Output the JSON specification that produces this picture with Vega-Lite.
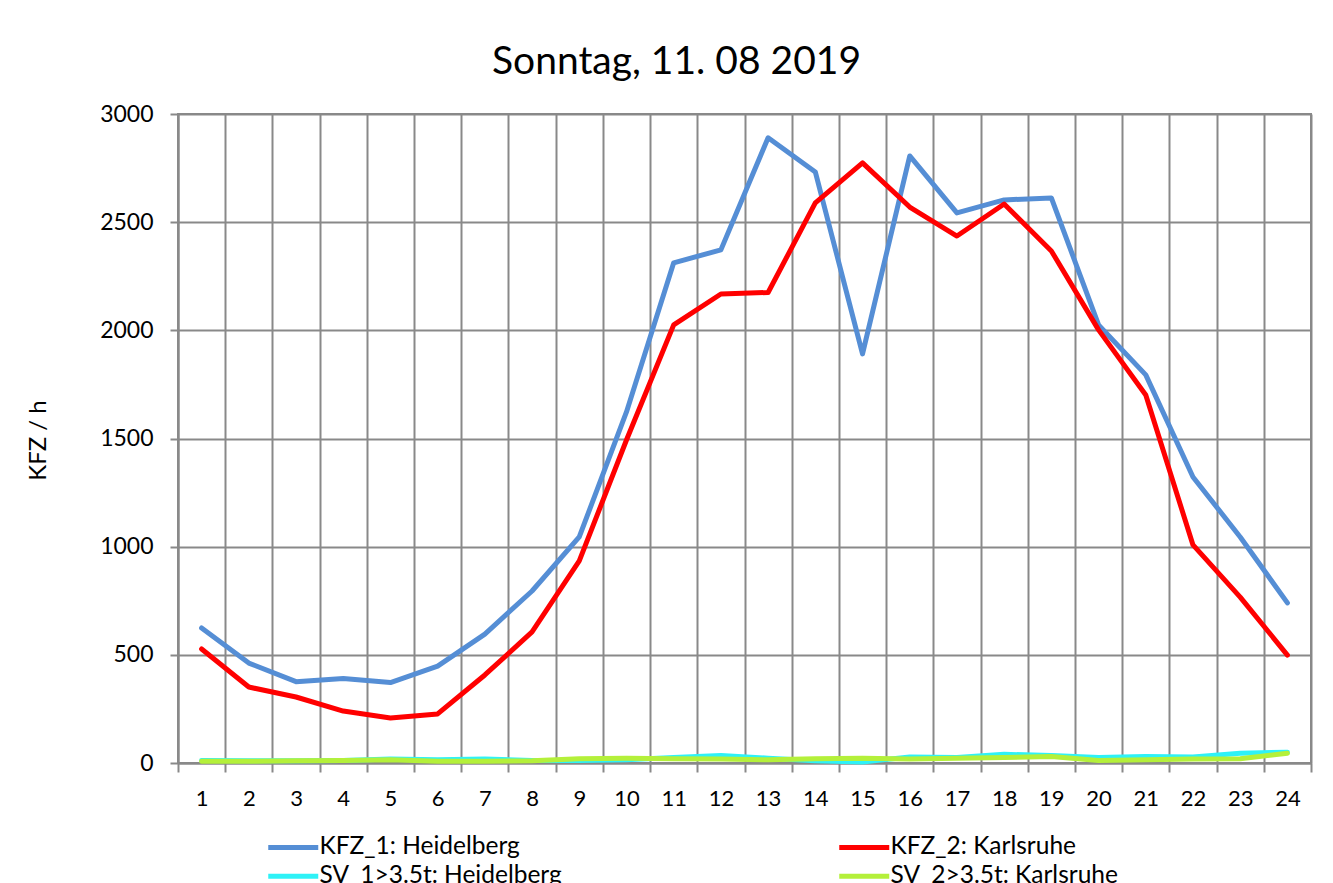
{
  "$schema": "https://vega.github.io/schema/vega-lite/v6.json",
  "width": 1133,
  "height": 649,
  "autosize": {"type": "none"},
  "padding": {"left": 178, "top": 114, "right": 22, "bottom": 120},
  "background": "white",
  "title": {
    "text": "Sonntag, 11. 08 2019",
    "font": "Lato",
    "fontSize": 39,
    "fontWeight": "normal",
    "color": "black",
    "anchor": "middle",
    "dx": -68,
    "dy": 53,
    "baseline": "alphabetic",
    "offset": 43
  },
  "config": {
    "view": {"stroke": "#898989", "strokeWidth": 2},
    "font": "Lato"
  },
  "datasets": {
    "traffic": [
      {"h": 1, "s": "KFZ_1: Heidelberg", "v": 624},
      {"h": 2, "s": "KFZ_1: Heidelberg", "v": 462},
      {"h": 3, "s": "KFZ_1: Heidelberg", "v": 376},
      {"h": 4, "s": "KFZ_1: Heidelberg", "v": 391},
      {"h": 5, "s": "KFZ_1: Heidelberg", "v": 372},
      {"h": 6, "s": "KFZ_1: Heidelberg", "v": 448},
      {"h": 7, "s": "KFZ_1: Heidelberg", "v": 596},
      {"h": 8, "s": "KFZ_1: Heidelberg", "v": 795},
      {"h": 9, "s": "KFZ_1: Heidelberg", "v": 1045},
      {"h": 10, "s": "KFZ_1: Heidelberg", "v": 1623},
      {"h": 11, "s": "KFZ_1: Heidelberg", "v": 2312},
      {"h": 12, "s": "KFZ_1: Heidelberg", "v": 2372},
      {"h": 13, "s": "KFZ_1: Heidelberg", "v": 2890},
      {"h": 14, "s": "KFZ_1: Heidelberg", "v": 2732},
      {"h": 15, "s": "KFZ_1: Heidelberg", "v": 1891},
      {"h": 16, "s": "KFZ_1: Heidelberg", "v": 2806},
      {"h": 17, "s": "KFZ_1: Heidelberg", "v": 2543},
      {"h": 18, "s": "KFZ_1: Heidelberg", "v": 2603},
      {"h": 19, "s": "KFZ_1: Heidelberg", "v": 2612},
      {"h": 20, "s": "KFZ_1: Heidelberg", "v": 2025},
      {"h": 21, "s": "KFZ_1: Heidelberg", "v": 1794},
      {"h": 22, "s": "KFZ_1: Heidelberg", "v": 1322},
      {"h": 23, "s": "KFZ_1: Heidelberg", "v": 1045},
      {"h": 24, "s": "KFZ_1: Heidelberg", "v": 740},
      {"h": 1, "s": "KFZ_2: Karlsruhe", "v": 527},
      {"h": 2, "s": "KFZ_2: Karlsruhe", "v": 351},
      {"h": 3, "s": "KFZ_2: Karlsruhe", "v": 305},
      {"h": 4, "s": "KFZ_2: Karlsruhe", "v": 240},
      {"h": 5, "s": "KFZ_2: Karlsruhe", "v": 208},
      {"h": 6, "s": "KFZ_2: Karlsruhe", "v": 227},
      {"h": 7, "s": "KFZ_2: Karlsruhe", "v": 407},
      {"h": 8, "s": "KFZ_2: Karlsruhe", "v": 606},
      {"h": 9, "s": "KFZ_2: Karlsruhe", "v": 934},
      {"h": 10, "s": "KFZ_2: Karlsruhe", "v": 1493},
      {"h": 11, "s": "KFZ_2: Karlsruhe", "v": 2025},
      {"h": 12, "s": "KFZ_2: Karlsruhe", "v": 2168},
      {"h": 13, "s": "KFZ_2: Karlsruhe", "v": 2175},
      {"h": 14, "s": "KFZ_2: Karlsruhe", "v": 2589},
      {"h": 15, "s": "KFZ_2: Karlsruhe", "v": 2774},
      {"h": 16, "s": "KFZ_2: Karlsruhe", "v": 2570},
      {"h": 17, "s": "KFZ_2: Karlsruhe", "v": 2436},
      {"h": 18, "s": "KFZ_2: Karlsruhe", "v": 2584},
      {"h": 19, "s": "KFZ_2: Karlsruhe", "v": 2367},
      {"h": 20, "s": "KFZ_2: Karlsruhe", "v": 2002},
      {"h": 21, "s": "KFZ_2: Karlsruhe", "v": 1701},
      {"h": 22, "s": "KFZ_2: Karlsruhe", "v": 1008},
      {"h": 23, "s": "KFZ_2: Karlsruhe", "v": 767},
      {"h": 24, "s": "KFZ_2: Karlsruhe", "v": 499},
      {"h": 1, "s": "SV_1>3.5t: Heidelberg", "v": 12},
      {"h": 2, "s": "SV_1>3.5t: Heidelberg", "v": 10},
      {"h": 3, "s": "SV_1>3.5t: Heidelberg", "v": 10},
      {"h": 4, "s": "SV_1>3.5t: Heidelberg", "v": 12},
      {"h": 5, "s": "SV_1>3.5t: Heidelberg", "v": 18},
      {"h": 6, "s": "SV_1>3.5t: Heidelberg", "v": 15},
      {"h": 7, "s": "SV_1>3.5t: Heidelberg", "v": 18},
      {"h": 8, "s": "SV_1>3.5t: Heidelberg", "v": 12},
      {"h": 9, "s": "SV_1>3.5t: Heidelberg", "v": 12},
      {"h": 10, "s": "SV_1>3.5t: Heidelberg", "v": 15},
      {"h": 11, "s": "SV_1>3.5t: Heidelberg", "v": 25},
      {"h": 12, "s": "SV_1>3.5t: Heidelberg", "v": 35},
      {"h": 13, "s": "SV_1>3.5t: Heidelberg", "v": 22},
      {"h": 14, "s": "SV_1>3.5t: Heidelberg", "v": 10},
      {"h": 15, "s": "SV_1>3.5t: Heidelberg", "v": 5},
      {"h": 16, "s": "SV_1>3.5t: Heidelberg", "v": 28},
      {"h": 17, "s": "SV_1>3.5t: Heidelberg", "v": 25},
      {"h": 18, "s": "SV_1>3.5t: Heidelberg", "v": 40},
      {"h": 19, "s": "SV_1>3.5t: Heidelberg", "v": 35},
      {"h": 20, "s": "SV_1>3.5t: Heidelberg", "v": 25},
      {"h": 21, "s": "SV_1>3.5t: Heidelberg", "v": 30},
      {"h": 22, "s": "SV_1>3.5t: Heidelberg", "v": 28},
      {"h": 23, "s": "SV_1>3.5t: Heidelberg", "v": 45},
      {"h": 24, "s": "SV_1>3.5t: Heidelberg", "v": 50},
      {"h": 1, "s": "SV_2>3.5t: Karlsruhe", "v": 8},
      {"h": 2, "s": "SV_2>3.5t: Karlsruhe", "v": 8},
      {"h": 3, "s": "SV_2>3.5t: Karlsruhe", "v": 10},
      {"h": 4, "s": "SV_2>3.5t: Karlsruhe", "v": 12},
      {"h": 5, "s": "SV_2>3.5t: Karlsruhe", "v": 15},
      {"h": 6, "s": "SV_2>3.5t: Karlsruhe", "v": 8},
      {"h": 7, "s": "SV_2>3.5t: Karlsruhe", "v": 8},
      {"h": 8, "s": "SV_2>3.5t: Karlsruhe", "v": 10},
      {"h": 9, "s": "SV_2>3.5t: Karlsruhe", "v": 20},
      {"h": 10, "s": "SV_2>3.5t: Karlsruhe", "v": 22},
      {"h": 11, "s": "SV_2>3.5t: Karlsruhe", "v": 20},
      {"h": 12, "s": "SV_2>3.5t: Karlsruhe", "v": 18},
      {"h": 13, "s": "SV_2>3.5t: Karlsruhe", "v": 15},
      {"h": 14, "s": "SV_2>3.5t: Karlsruhe", "v": 20},
      {"h": 15, "s": "SV_2>3.5t: Karlsruhe", "v": 22},
      {"h": 16, "s": "SV_2>3.5t: Karlsruhe", "v": 18},
      {"h": 17, "s": "SV_2>3.5t: Karlsruhe", "v": 22},
      {"h": 18, "s": "SV_2>3.5t: Karlsruhe", "v": 25},
      {"h": 19, "s": "SV_2>3.5t: Karlsruhe", "v": 30},
      {"h": 20, "s": "SV_2>3.5t: Karlsruhe", "v": 12},
      {"h": 21, "s": "SV_2>3.5t: Karlsruhe", "v": 15},
      {"h": 22, "s": "SV_2>3.5t: Karlsruhe", "v": 18},
      {"h": 23, "s": "SV_2>3.5t: Karlsruhe", "v": 20},
      {"h": 24, "s": "SV_2>3.5t: Karlsruhe", "v": 45}
    ]
  },
  "data": {"name": "traffic"},
  "mark": {"type": "line", "strokeWidth": 5, "strokeJoin": "round", "strokeCap": "round"},
  "encoding": {
    "x": {
      "field": "h",
      "type": "ordinal",
      "bandPosition": 0.5,
      "scale": {"type": "band", "paddingInner": 0, "paddingOuter": 0},
      "axis": {
        "title": null,
        "labelAngle": 0,
        "labelFont": "Lato",
        "labelFontSize": 22,
        "labelColor": "black",
        "tickBand": "extent",
        "grid": true,
        "gridColor": "#898989",
        "gridWidth": 2,
        "gridOpacity": 1,
        "domainColor": "#898989",
        "domainWidth": 2,
        "tickColor": "#898989",
        "tickWidth": 2,
        "tickSize": 9,
        "labelPadding": 16
      }
    },
    "y": {
      "field": "v",
      "type": "quantitative",
      "scale": {"domain": [0, 3000], "nice": false},
      "axis": {
        "values": [0, 500, 1000, 1500, 2000, 2500, 3000],
        "format": "d",
        "title": "KFZ / h",
        "titleFont": "Lato",
        "titleFontSize": 24,
        "titleFontWeight": "normal",
        "titleColor": "black",
        "titleX": -140,
        "titleY": 326,
        "titleAngle": -90,
        "titleAlign": "center",
        "titleBaseline": "middle",
        "labelFont": "Lato",
        "labelFontSize": 23,
        "labelColor": "black",
        "labelPadding": 17,
        "grid": true,
        "gridColor": "#898989",
        "gridWidth": 2,
        "gridOpacity": 1,
        "domainColor": "#898989",
        "domainWidth": 2,
        "tickColor": "#898989",
        "tickWidth": 2,
        "tickSize": 8
      }
    },
    "color": {
      "field": "s",
      "type": "nominal",
      "scale": {
        "domain": ["KFZ_1: Heidelberg", "KFZ_2: Karlsruhe", "SV_1>3.5t: Heidelberg", "SV_2>3.5t: Karlsruhe"],
        "range": ["#558ED5", "#FF0000", "#2EF2F7", "#B4F03A"]
      },
      "legend": {
        "title": null,
        "orient": "none",
        "legendX": 103,
        "legendY": 721,
        "direction": "horizontal",
        "columns": 2,
        "columnPadding": 267,
        "rowPadding": 4,
        "symbolType": "M-5,0H5",
        "symbolSize": 100,
        "symbolStrokeWidth": 5,
        "labelFont": "Lato",
        "labelFontSize": 24.5,
        "labelLimit": 0,
        "labelColor": "black",
        "labelOffset": 14
      }
    }
  }
}
